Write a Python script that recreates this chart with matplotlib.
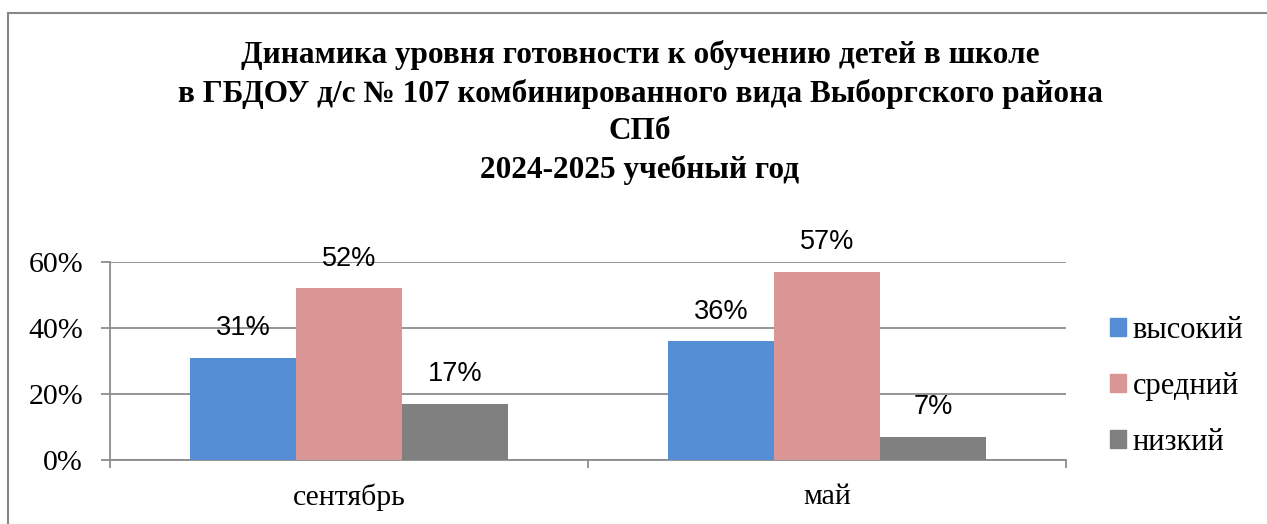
import matplotlib
matplotlib.use("Agg")
import matplotlib.pyplot as plt
from matplotlib.lines import Line2D
from matplotlib.patches import Patch
import numpy as np

# data
categories = ["сентябрь", "май"]
series_names = ["высокий", "средний", "низкий"]
vysokiy = [0.31, 0.36]
sredniy = [0.52, 0.57]
nizkiy = [0.17, 0.07]
y_ticks = [0.0, 0.2, 0.4, 0.6]

colors = ["#558ED5", "#D99694", "#808080"]
grid_col = "#8C8C8C"

title = ("Динамика уровня готовности к обучению детей в школе\n"
         "в ГБДОУ д/с № 107 комбинированного вида Выборгского района\n"
         "СПб\n"
         "2024-2025 учебный год")

W, H = 1267, 524
fig = plt.figure(figsize=(W / 100, H / 100), dpi=100)
ax = fig.add_axes([110 / W, 1 - 460 / H, (1066 - 110) / W, (460 - 262) / H])

x = np.arange(len(categories))
bw = 106 / 478
serif = ["Liberation Serif", "DejaVu Serif"]

for i, (vals, name) in enumerate(zip([vysokiy, sredniy, nizkiy], series_names)):
    bars = ax.bar(x + (i - 1) * bw, vals, width=bw, color=colors[i], label=name, zorder=3)
    for b, v in zip(bars, vals):
        ax.annotate(f"{v:.0%}", (b.get_x() + b.get_width() / 2, v),
                    xytext=(0, 12), textcoords="offset points",
                    ha="center", va="bottom", fontsize=19.5,
                    family="Liberation Sans")

ax.set_xlim(-0.5, 1.5)
ax.set_ylim(0, 0.6)
ax.set_yticks(y_ticks)
ax.set_yticklabels([f"{t:.0%}" for t in y_ticks], family=serif, fontsize=21.5)
ax.yaxis.grid(True, color=grid_col, linewidth=1.3, zorder=0)
ax.tick_params(axis="y", length=6.5, width=1.3, color=grid_col, pad=13)

ax.set_xticks(x)
ax.set_xticklabels(categories, family=serif, fontsize=21.5)
ax.set_xticks([-0.5, 0.5, 1.5], minor=True)
ax.tick_params(axis="x", which="major", length=0, pad=17)
ax.tick_params(axis="x", which="minor", length=6, width=1.3, color=grid_col)

for s in ["top", "right"]:
    ax.spines[s].set_visible(False)
for s in ["left", "bottom"]:
    ax.spines[s].set_color(grid_col)
    ax.spines[s].set_linewidth(1.3)

handles = [Patch(color=c) for c in colors]
fig.legend(handles, series_names, loc="upper left",
           bbox_to_anchor=(1110 / W, 1 - 316 / H), frameon=False,
           prop={"family": serif, "size": 22}, handlelength=0.52,
           handleheight=0.52, handletextpad=0.23, labelspacing=0.88,
           borderaxespad=0, borderpad=0)

fig.text(640 / W, 1 - 40 / H, title, ha="center", va="top",
         family=serif, fontweight="bold", fontsize=22.5, linespacing=1.38)

# outer frame (left and top edges show)
fig.add_artist(Line2D([8 / W, 8 / W], [0, 1 - 13 / H], color="#888888", lw=1.5))
fig.add_artist(Line2D([8 / W, 1], [1 - 13 / H, 1 - 13 / H], color="#888888", lw=1.5))

fig.savefig("out.png", dpi=100)
